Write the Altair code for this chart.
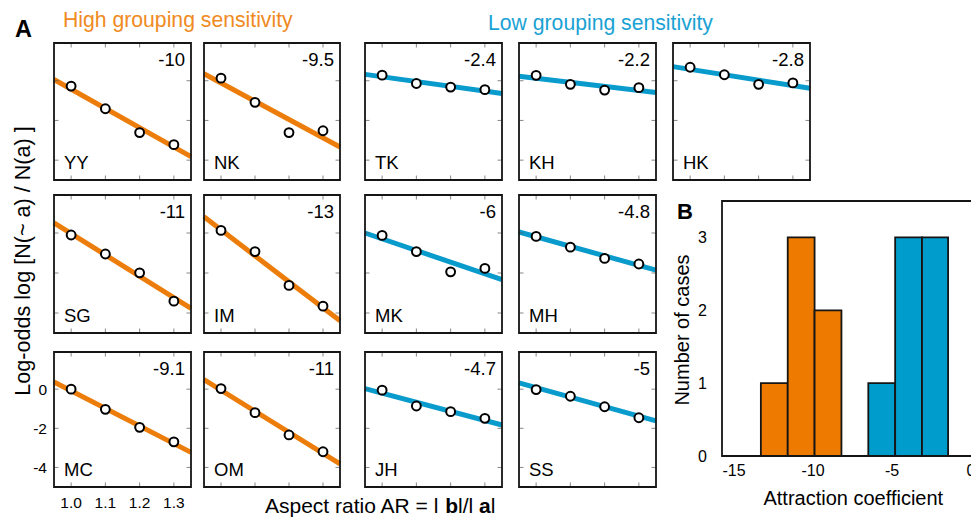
import altair as alt
import pandas as pd

# ---------------- data ----------------
AR = [1.0, 1.1, 1.2, 1.3]                 # aspect ratio levels
AR_TICK_LABELS = ["1.0", "1.1", "1.2", "1.3"]
AR_LIMITS = [0.95, 1.35]                   # x extent of each small panel
LOG_ODDS_LIMITS = [-5.0, 1.9]              # y extent of each small panel
LOG_ODDS_TICKS = [0, -2, -4]
LOG_ODDS_TICK_LABELS = ["0", "-2", "-4"]

SUBJECTS = ["YY", "NK", "TK", "KH", "HK",
            "SG", "IM", "MK", "MH",
            "MC", "OM", "JH", "SS"]
GROUPS = ["high", "high", "low", "low", "low",
          "high", "high", "low", "low",
          "high", "high", "low", "low"]
COEF_LABELS = ["-10", "-9.5", "-2.4", "-2.2", "-2.8",
               "-11", "-13", "-6", "-4.8",
               "-9.1", "-11", "-4.7", "-5"]

# observed log-odds at AR = 1.0, 1.1, 1.2, 1.3
LOGODDS_YY = [-0.27, -1.41, -2.61, -3.22]
LOGODDS_NK = [0.13, -1.09, -2.61, -2.52]
LOGODDS_TK = [0.28, -0.14, -0.32, -0.45]
LOGODDS_KH = [0.27, -0.18, -0.47, -0.35]
LOGODDS_HK = [0.68, 0.30, -0.18, -0.11]
LOGODDS_SG = [-0.10, -1.05, -1.99, -3.41]
LOGODDS_IM = [0.13, -0.93, -2.62, -3.66]
LOGODDS_MK = [-0.12, -0.93, -1.94, -1.77]
LOGODDS_MH = [-0.17, -0.71, -1.27, -1.55]
LOGODDS_MC = [0.00, -1.03, -1.95, -2.69]
LOGODDS_OM = [0.03, -1.20, -2.34, -3.20]
LOGODDS_JH = [-0.05, -0.86, -1.15, -1.49]
LOGODDS_SS = [-0.02, -0.36, -0.90, -1.46]

# fitted line value at the panel edges (AR = 0.95 and 1.35)
FIT_YY = [0.06, -3.82]
FIT_NK = [0.35, -3.34]
FIT_TK = [0.32, -0.64]
FIT_KH = [0.23, -0.59]
FIT_HK = [0.71, -0.38]
FIT_SG = [0.51, -3.77]
FIT_IM = [0.81, -4.39]
FIT_MK = [0.00, -2.33]
FIT_MH = [0.05, -1.86]
FIT_MC = [0.37, -3.23]
FIT_OM = [0.49, -3.82]
FIT_JH = [0.03, -1.83]
FIT_SS = [0.32, -1.62]

LOG_ODDS = {"YY": LOGODDS_YY, "NK": LOGODDS_NK, "TK": LOGODDS_TK, "KH": LOGODDS_KH,
            "HK": LOGODDS_HK, "SG": LOGODDS_SG, "IM": LOGODDS_IM, "MK": LOGODDS_MK,
            "MH": LOGODDS_MH, "MC": LOGODDS_MC, "OM": LOGODDS_OM, "JH": LOGODDS_JH,
            "SS": LOGODDS_SS}
FITS = {"YY": FIT_YY, "NK": FIT_NK, "TK": FIT_TK, "KH": FIT_KH, "HK": FIT_HK,
        "SG": FIT_SG, "IM": FIT_IM, "MK": FIT_MK, "MH": FIT_MH, "MC": FIT_MC,
        "OM": FIT_OM, "JH": FIT_JH, "SS": FIT_SS}

# panel B histogram
HIGH_BIN_EDGES = [-13.3, -11.6, -9.9, -8.2]
HIGH_COUNTS = [1, 3, 2]
LOW_BIN_EDGES = [-6.5, -4.8, -3.1, -1.45]
LOW_COUNTS = [1, 3, 3]
COEF_LIMITS = [-15.76, 0.57]
COEF_TICKS = [-15, -10, -5, 0]
COEF_TICK_LABELS = ["-15", "-10", "-5", "0"]
COUNT_LIMITS = [0, 3.5]
COUNT_TICKS = [0, 1, 2, 3]
COUNT_TICK_LABELS = ["0", "1", "2", "3"]

# ---------------- layout / style ----------------
W, H = 971, 526
FONT = "Liberation Sans"
ORANGE = "#EC7D0A"
BLUE = "#0A9BCD"
ORANGE_BAR = "#EE7B00"
BLUE_BAR = "#009DCC"
ORANGE_TXT = "#F08A22"
BLUE_TXT = "#1AA2D4"
FRAME = "#151515"
TICK = "#555555"

COL_PX = [(54, 191), (204, 340), (365, 502), (519, 656), (673, 810)]
ROW_PX = [(43, 180), (195, 333), (352, 487)]
CELL = [(0, 0), (0, 1), (0, 2), (0, 3), (0, 4),
        (1, 0), (1, 1), (1, 2), (1, 3),
        (2, 0), (2, 1), (2, 2), (2, 3)]
B_X_PX = (722, 980)
B_Y_PX = (201, 456)

one = pd.DataFrame({"k": [0]})


def panel(k):
    name = SUBJECTS[k]
    r, c = CELL[k]
    x0, x1 = COL_PX[c]
    y0, y1 = ROW_PX[r]
    color = ORANGE if GROUPS[k] == "high" else BLUE
    xs = alt.Scale(domain=AR_LIMITS, range=[x0, x1], nice=False, zero=False)
    ys = alt.Scale(domain=LOG_ODDS_LIMITS, range=[y1, y0], nice=False, zero=False)

    line_df = pd.DataFrame({"ar": AR_LIMITS, "fit": FITS[name]})
    pts_df = pd.DataFrame({"ar": AR, "lo": LOG_ODDS[name]})
    xt_df = pd.DataFrame({"t": AR, "lab": AR_TICK_LABELS})
    yt_df = pd.DataFrame({"t": LOG_ODDS_TICKS, "lab": LOG_ODDS_TICK_LABELS})
    lab_df = pd.DataFrame({"coef": [COEF_LABELS[k]], "subj": [name]})

    line = alt.Chart(line_df).mark_line(color=color, strokeWidth=5).encode(
        x=alt.X("ar:Q", scale=xs, axis=None),
        y=alt.Y("fit:Q", scale=ys, axis=None),
    )
    pts = alt.Chart(pts_df).mark_point(shape="circle", filled=True, fill="white",
                                       stroke="black", strokeWidth=2, size=78,
                                       opacity=1).encode(
        x=alt.X("ar:Q", scale=xs, axis=None),
        y=alt.Y("lo:Q", scale=ys, axis=None),
    )
    frame = alt.Chart(one).mark_rect(fill="transparent", stroke=FRAME, strokeWidth=1.8).encode(
        x=alt.X(datum=AR_LIMITS[0], scale=xs, axis=None),
        x2=alt.X2(datum=AR_LIMITS[1]),
        y=alt.Y(datum=LOG_ODDS_LIMITS[0], scale=ys, axis=None),
        y2=alt.Y2(datum=LOG_ODDS_LIMITS[1]),
    )
    layers = [line, pts]
    # inward tick marks on all four sides
    for ydat, off in ((LOG_ODDS_LIMITS[1], 2.5), (LOG_ODDS_LIMITS[0], -2.5)):
        layers.append(alt.Chart(xt_df).mark_tick(orient="vertical", size=4, thickness=1,
                                                 color=TICK, yOffset=off).encode(
            x=alt.X("t:Q", scale=xs, axis=None),
            y=alt.Y(datum=ydat, scale=ys, axis=None)))
    for xdat, off in ((AR_LIMITS[0], 2.5), (AR_LIMITS[1], -2.5)):
        layers.append(alt.Chart(yt_df).mark_tick(orient="horizontal", size=4, thickness=1,
                                                 color=TICK, xOffset=off).encode(
            y=alt.Y("t:Q", scale=ys, axis=None),
            x=alt.X(datum=xdat, scale=xs, axis=None)))
    layers.append(frame)
    layers.append(alt.Chart(lab_df).mark_text(align="right", baseline="alphabetic", dx=-6, dy=23,
                                              fontSize=18.5, font=FONT, color="black").encode(
        x=alt.X(datum=AR_LIMITS[1], scale=xs, axis=None),
        y=alt.Y(datum=LOG_ODDS_LIMITS[1], scale=ys, axis=None),
        text="coef:N"))
    layers.append(alt.Chart(lab_df).mark_text(align="left", baseline="alphabetic", dx=10, dy=-11,
                                              fontSize=18.5, font=FONT, color="black").encode(
        x=alt.X(datum=AR_LIMITS[0], scale=xs, axis=None),
        y=alt.Y(datum=LOG_ODDS_LIMITS[0], scale=ys, axis=None),
        text="subj:N"))
    if name == "MC":
        # tick labels of the shared axes, shown once
        layers.append(alt.Chart(xt_df).mark_text(align="center", baseline="alphabetic", dy=21,
                                                 fontSize=15.5, font=FONT, color="black").encode(
            x=alt.X("t:Q", scale=xs, axis=None),
            y=alt.Y(datum=LOG_ODDS_LIMITS[0], scale=ys, axis=None),
            text="lab:N"))
        layers.append(alt.Chart(yt_df).mark_text(align="right", baseline="middle", dx=-7, dy=1,
                                                 fontSize=15.5, font=FONT, color="black").encode(
            y=alt.Y("t:Q", scale=ys, axis=None),
            x=alt.X(datum=AR_LIMITS[0], scale=xs, axis=None),
            text="lab:N"))
    return alt.layer(*layers)


panels = [panel(k) for k in range(len(SUBJECTS))]

# ---------------- panel B ----------------
bins_df = pd.DataFrame({
    "start": HIGH_BIN_EDGES[:-1] + LOW_BIN_EDGES[:-1],
    "end": HIGH_BIN_EDGES[1:] + LOW_BIN_EDGES[1:],
    "count": HIGH_COUNTS + LOW_COUNTS,
    "group": ["high"] * len(HIGH_COUNTS) + ["low"] * len(LOW_COUNTS),
})
bxs = alt.Scale(domain=COEF_LIMITS, range=list(B_X_PX), nice=False, zero=False)
bys = alt.Scale(domain=COUNT_LIMITS, range=[B_Y_PX[1], B_Y_PX[0]], nice=False, zero=False)
bars = alt.Chart(bins_df).mark_rect(stroke=FRAME, strokeWidth=1.8).encode(
    x=alt.X("start:Q", scale=bxs, axis=None),
    x2="end:Q",
    y=alt.Y("count:Q", scale=bys, axis=None),
    y2=alt.Y2(datum=0),
    color=alt.Color("group:N", scale=alt.Scale(domain=["high", "low"],
                                               range=[ORANGE_BAR, BLUE_BAR]), legend=None),
)
bframe = alt.Chart(one).mark_rect(fill="transparent", stroke=FRAME, strokeWidth=1.8).encode(
    x=alt.X(datum=COEF_LIMITS[0], scale=bxs, axis=None),
    x2=alt.X2(datum=COEF_LIMITS[1]),
    y=alt.Y(datum=COUNT_LIMITS[0], scale=bys, axis=None),
    y2=alt.Y2(datum=COUNT_LIMITS[1]),
)
bx_lab = alt.Chart(pd.DataFrame({"t": COEF_TICKS, "lab": COEF_TICK_LABELS})).mark_text(
    align="center", baseline="alphabetic", dy=19.5, fontSize=16, font=FONT, color="black").encode(
    x=alt.X("t:Q", scale=bxs, axis=None),
    y=alt.Y(datum=COUNT_LIMITS[0], scale=bys, axis=None),
    text="lab:N")
by_lab = alt.Chart(pd.DataFrame({"t": COUNT_TICKS, "lab": COUNT_TICK_LABELS})).mark_text(
    align="right", baseline="middle", dx=-15, dy=1, fontSize=16, font=FONT, color="black").encode(
    y=alt.Y("t:Q", scale=bys, axis=None),
    x=alt.X(datum=COEF_LIMITS[0], scale=bxs, axis=None),
    text="lab:N")
panel_b = alt.layer(bars, bframe, bx_lab, by_lab)


# ---------------- annotations ----------------
def note(text, x, y, size, color="black", weight="normal", align="left",
         baseline="alphabetic", angle=0):
    kw = dict(align=align, baseline=baseline, fontSize=size, font=FONT, color=color,
              fontWeight=weight)
    if angle:
        kw["angle"] = angle
    return alt.Chart(one).mark_text(**kw).encode(
        x=alt.value(x), y=alt.value(y), text=alt.value(text))


notes = [
    note("A", 15, 36.7, 23.5, weight="bold"),
    note("B", 677, 219.3, 22, weight="bold"),
    note("High grouping sensitivity", 63, 27.3, 21.2, color=ORANGE_TXT),
    note("Low grouping sensitivity", 488, 30, 21.2, color=BLUE_TXT),
    note("Log-odds log [N(~ a) / N(a) ]", 24, 261, 21.6, align="center",
         baseline="middle", angle=270),
    # x-axis title of A, with bold vector names
    note("Aspect ratio AR = l ", 265, 513.3, 21),
    note("b", 445.3, 513.3, 21, weight="bold"),
    note("l/l ", 458.1, 513.3, 21),
    note("a", 479.1, 513.3, 21, weight="bold"),
    note("l", 490.8, 513.3, 21),
    # panel B axis titles
    note("Number of cases", 683, 330, 20, align="center", baseline="middle", angle=270),
    note("Attraction coefficient", 853.3, 505, 20, align="center"),
]

chart = alt.layer(*panels, panel_b, *notes).resolve_scale(
    x="independent", y="independent"
).properties(
    width=W, height=H, padding=0,
    autosize=alt.AutoSizeParams(type="none"),
    background="white",
).configure_view(
    stroke="transparent"
)

chart.save("out.html", embed_options={"renderer": "svg", "actions": False})
